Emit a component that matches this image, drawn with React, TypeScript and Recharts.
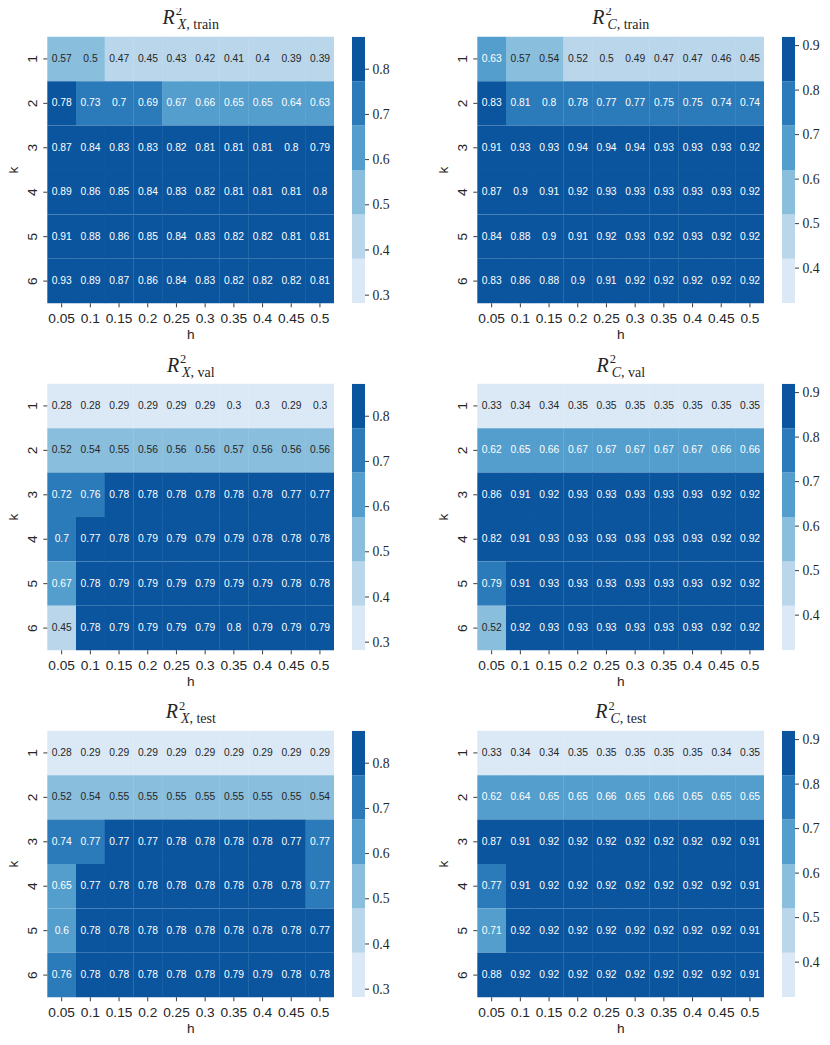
import React from 'react';
import { BarChart, Bar, XAxis, YAxis, Cell, LabelList } from 'recharts';

const hLabels = ['0.05', '0.1', '0.15', '0.2', '0.25', '0.3', '0.35', '0.4', '0.45', '0.5'];
const kLabels = ['1', '2', '3', '4', '5', '6'];

// rows: k = 1..6, columns: h = 0.05..0.5
const r2XTrain = [
  [0.57, 0.5, 0.47, 0.45, 0.43, 0.42, 0.41, 0.4, 0.39, 0.39],
  [0.78, 0.73, 0.7, 0.69, 0.67, 0.66, 0.65, 0.65, 0.64, 0.63],
  [0.87, 0.84, 0.83, 0.83, 0.82, 0.81, 0.81, 0.81, 0.8, 0.79],
  [0.89, 0.86, 0.85, 0.84, 0.83, 0.82, 0.81, 0.81, 0.81, 0.8],
  [0.91, 0.88, 0.86, 0.85, 0.84, 0.83, 0.82, 0.82, 0.81, 0.81],
  [0.93, 0.89, 0.87, 0.86, 0.84, 0.83, 0.82, 0.82, 0.82, 0.81],
];
const r2CTrain = [
  [0.63, 0.57, 0.54, 0.518, 0.5, 0.49, 0.47, 0.47, 0.46, 0.45],
  [0.83, 0.81, 0.8, 0.78, 0.77, 0.77, 0.75, 0.75, 0.74, 0.74],
  [0.91, 0.93, 0.93, 0.94, 0.94, 0.94, 0.93, 0.93, 0.93, 0.92],
  [0.87, 0.9, 0.91, 0.92, 0.93, 0.93, 0.93, 0.93, 0.93, 0.92],
  [0.84, 0.88, 0.9, 0.91, 0.92, 0.93, 0.92, 0.93, 0.92, 0.92],
  [0.83, 0.86, 0.88, 0.9, 0.91, 0.92, 0.92, 0.92, 0.92, 0.92],
];
const r2XVal = [
  [0.28, 0.28, 0.29, 0.29, 0.29, 0.29, 0.3, 0.3, 0.29, 0.3],
  [0.52, 0.54, 0.55, 0.56, 0.56, 0.56, 0.57, 0.56, 0.56, 0.56],
  [0.72, 0.76, 0.78, 0.78, 0.78, 0.78, 0.78, 0.78, 0.774, 0.774],
  [0.7, 0.774, 0.78, 0.79, 0.79, 0.79, 0.79, 0.78, 0.78, 0.78],
  [0.67, 0.78, 0.79, 0.79, 0.79, 0.79, 0.79, 0.79, 0.78, 0.78],
  [0.45, 0.78, 0.79, 0.79, 0.79, 0.79, 0.8, 0.79, 0.79, 0.79],
];
const r2CVal = [
  [0.33, 0.34, 0.34, 0.35, 0.35, 0.35, 0.35, 0.35, 0.35, 0.35],
  [0.622, 0.65, 0.66, 0.67, 0.67, 0.67, 0.67, 0.67, 0.66, 0.66],
  [0.86, 0.91, 0.92, 0.93, 0.93, 0.93, 0.93, 0.93, 0.92, 0.92],
  [0.822, 0.91, 0.93, 0.93, 0.93, 0.93, 0.93, 0.93, 0.92, 0.92],
  [0.79, 0.91, 0.93, 0.93, 0.93, 0.93, 0.93, 0.93, 0.92, 0.92],
  [0.523, 0.92, 0.93, 0.93, 0.93, 0.93, 0.93, 0.93, 0.92, 0.92],
];
const r2XTest = [
  [0.28, 0.29, 0.29, 0.29, 0.29, 0.29, 0.29, 0.29, 0.29, 0.29],
  [0.52, 0.54, 0.55, 0.55, 0.55, 0.55, 0.55, 0.55, 0.55, 0.54],
  [0.74, 0.768, 0.774, 0.774, 0.78, 0.78, 0.78, 0.78, 0.774, 0.768],
  [0.65, 0.774, 0.78, 0.78, 0.78, 0.78, 0.78, 0.78, 0.78, 0.768],
  [0.6, 0.78, 0.78, 0.78, 0.78, 0.78, 0.78, 0.78, 0.78, 0.774],
  [0.76, 0.78, 0.78, 0.78, 0.78, 0.78, 0.79, 0.79, 0.78, 0.78],
];
const r2CTest = [
  [0.33, 0.34, 0.34, 0.35, 0.35, 0.35, 0.35, 0.35, 0.34, 0.35],
  [0.622, 0.64, 0.65, 0.65, 0.66, 0.65, 0.66, 0.65, 0.65, 0.65],
  [0.87, 0.91, 0.92, 0.92, 0.92, 0.92, 0.92, 0.92, 0.92, 0.91],
  [0.77, 0.91, 0.92, 0.92, 0.92, 0.92, 0.92, 0.92, 0.92, 0.91],
  [0.71, 0.92, 0.92, 0.92, 0.92, 0.92, 0.92, 0.92, 0.92, 0.91],
  [0.88, 0.92, 0.92, 0.92, 0.92, 0.92, 0.92, 0.92, 0.92, 0.91],
];

const xRange = [0.282, 0.872];
const cRange = [0.321, 0.92];
const xBarTicks = [0.3, 0.4, 0.5, 0.6, 0.7, 0.8];
const cBarTicks = [0.4, 0.5, 0.6, 0.7, 0.8, 0.9];
const blues = ['#dbe9f6', '#bad6eb', '#89bedc', '#539ecd', '#2b7bba', '#0b559f'];

const panels = [
  { values: r2XTrain, range: xRange, ticks: xBarTicks, sym: 'X', split: 'train' },
  { values: r2CTrain, range: cRange, ticks: cBarTicks, sym: 'C', split: 'train' },
  { values: r2XVal, range: xRange, ticks: xBarTicks, sym: 'X', split: 'val' },
  { values: r2CVal, range: cRange, ticks: cBarTicks, sym: 'C', split: 'val' },
  { values: r2XTest, range: xRange, ticks: xBarTicks, sym: 'X', split: 'test' },
  { values: r2CTest, range: cRange, ticks: cBarTicks, sym: 'C', split: 'test' },
];

const SANS = '"Liberation Sans", Arial, Helvetica, sans-serif';
const SERIF = '"Liberation Serif", "Times New Roman", serif';
const INK = '#262626';

const binOf = (v: number, range: number[]) => {
  const b = Math.floor(((v - range[0]) / (range[1] - range[0])) * blues.length);
  return Math.max(0, Math.min(blues.length - 1, b));
};
const fmt = (v: number) => String(Number(v.toPrecision(2)));

const PANEL_H = 345;
const TOP = 36.7;
const PLOT_H = 266.6;
const PLOT_W = 287;
const YAX_W = 47.3;
const BODY = 8; // default body margin; page coordinates below are shifted by it

function Heatmap({ values, range }: { values: number[][]; range: number[] }) {
  const data = hLabels.map((h) => {
    const d: any = { h };
    kLabels.forEach((k) => {
      d['k' + k] = 1;
    });
    return d;
  });
  return (
    <BarChart
      width={YAX_W + PLOT_W}
      height={PANEL_H}
      data={data}
      margin={{ top: TOP, right: 0, bottom: 0, left: 0 }}
      barCategoryGap={0}
      barGap={0}
    >
      <XAxis
        dataKey="h"
        type="category"
        interval={0}
        height={PANEL_H - TOP - PLOT_H}
        axisLine={false}
        tickSize={4}
        tickMargin={15.4}
        tickLine={{ stroke: INK, strokeWidth: 0.9 }}
        tick={(p: any) => (
          <text x={p.x} y={p.y} textAnchor="middle" fontSize={13.7} fontFamily={SANS} fill={INK}>
            {p.payload.value}
          </text>
        )}
        label={{
          content: (p: any) => (
            <text
              x={p.viewBox.x + p.viewBox.width / 2}
              y={p.viewBox.y + 36}
              textAnchor="middle"
              fontSize={13.7}
              fontFamily={SANS}
              fill={INK}
            >
              h
            </text>
          ),
        }}
      />
      <YAxis
        type="number"
        domain={[0, kLabels.length]}
        reversed
        ticks={kLabels.map((_, i) => i + 0.5)}
        width={YAX_W}
        axisLine={false}
        tickSize={4}
        tickMargin={6}
        tickLine={{ stroke: INK, strokeWidth: 0.9 }}
        tick={(p: any) => (
          <text
            x={p.x}
            y={p.y}
            transform={`rotate(-90, ${p.x}, ${p.y})`}
            textAnchor="middle"
            fontSize={13.7}
            fontFamily={SANS}
            fill={INK}
          >
            {kLabels[Math.floor(p.payload.value)]}
          </text>
        )}
        label={{
          content: (p: any) => {
            const cx = p.viewBox.x + 18.3;
            const cy = p.viewBox.y + p.viewBox.height / 2;
            return (
              <text
                x={cx}
                y={cy}
                transform={`rotate(-90, ${cx}, ${cy})`}
                textAnchor="middle"
                fontSize={13.7}
                fontFamily={SANS}
                fill={INK}
              >
                k
              </text>
            );
          },
        }}
      />
      {kLabels.map((k, i) => (
        <Bar key={k} dataKey={'k' + k} stackId="cells" isAnimationActive={false}>
          {hLabels.map((h, j) => (
            <Cell
              key={h}
              fill={blues[binOf(values[i][j], range)]}
              stroke="rgba(255,255,255,0.035)"
              strokeWidth={0.5}
            />
          ))}
          <LabelList
            content={(p: any) => {
              const v = values[i][p.index];
              const b = binOf(v, range);
              return (
                <text
                  x={p.x + p.width / 2}
                  y={p.y + p.height / 2}
                  dy="0.3em"
                  textAnchor="middle"
                  fontSize={10.3}
                  fontFamily={SANS}
                  fill={b >= 3 ? '#ffffff' : INK}
                >
                  {fmt(v)}
                </text>
              );
            }}
          />
        </Bar>
      ))}
    </BarChart>
  );
}

function ColorBar({ range, ticks }: { range: number[]; ticks: number[] }) {
  const step = (range[1] - range[0]) / blues.length;
  const row: any = { name: 'cb', base: range[0] };
  blues.forEach((_, i) => {
    row['b' + i] = step;
  });
  return (
    <BarChart
      width={13 + 45}
      height={PANEL_H}
      data={[row]}
      margin={{ top: TOP, right: 0, bottom: PANEL_H - TOP - PLOT_H, left: 0 }}
      barCategoryGap={0}
      barGap={0}
    >
      <XAxis dataKey="name" type="category" hide />
      <YAxis
        orientation="right"
        type="number"
        domain={range}
        allowDataOverflow
        ticks={ticks}
        width={45}
        axisLine={false}
        tickSize={4}
        tickMargin={3.5}
        tickLine={{ stroke: INK, strokeWidth: 0.9 }}
        tick={(p: any) => (
          <text x={p.x} y={p.y} dy="0.33em" textAnchor="start" fontSize={13.7} fontFamily={SERIF} fill={INK}>
            {String(p.payload.value)}
          </text>
        )}
      />
      <Bar dataKey="base" stackId="cb" fill="none" isAnimationActive={false} />
      {blues.map((c, i) => (
        <Bar key={c} dataKey={'b' + i} stackId="cb" fill={c} isAnimationActive={false} />
      ))}
    </BarChart>
  );
}

const rowTops = [0, 347.3, 694];
const colLefts = [0, 430];

export default function App() {
  return (
    <div style={{ position: 'relative', width: 830 - BODY, height: 1045 - 2 * BODY }}>
      {panels.map((p, idx) => {
        const left = colLefts[idx % 2] - BODY;
        const top = rowTops[Math.floor(idx / 2)] - BODY;
        return (
          <React.Fragment key={idx}>
            <div style={{ position: 'absolute', left, top }}>
              <Heatmap values={p.values} range={p.range} />
            </div>
            <div style={{ position: 'absolute', left: left + 352.3, top }}>
              <ColorBar range={p.range} ticks={p.ticks} />
            </div>
          </React.Fragment>
        );
      })}
      <svg
        style={{ position: 'absolute', left: -BODY, top: -BODY, pointerEvents: 'none', overflow: 'visible' }}
        width={830}
        height={1045}
      >
        {panels.map((p, idx) => {
          const left = colLefts[idx % 2];
          const top = rowTops[Math.floor(idx / 2)];
          const cx = left + YAX_W + PLOT_W / 2;
          return (
            <text key={idx} x={cx} y={top + 24.3} textAnchor="middle" fontFamily={SERIF} fill={INK}>
              <tspan fontStyle="italic" fontSize={20}>R</tspan>
              <tspan fontSize={12.5} dy={-8.8} dx={1}>2</tspan>
              <tspan fontSize={14} fontStyle="italic" dy={13.8} dx={-4.3}>{p.sym}</tspan>
              <tspan fontSize={14}>{', ' + p.split}</tspan>
            </text>
          );
        })}
      </svg>
    </div>
  );
}
